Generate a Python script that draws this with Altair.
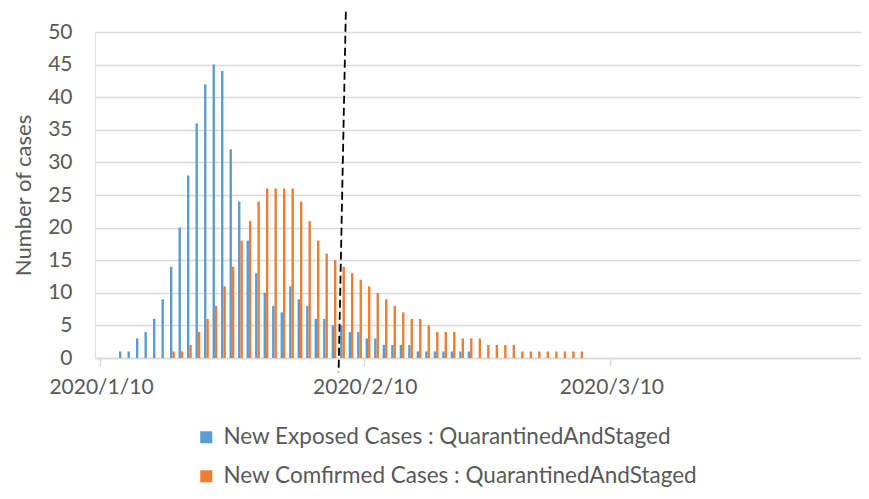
import altair as alt
import pandas as pd

start_date = "2020-01-10"
series_names = ["New Exposed Cases : QuarantinedAndStaged",
                "New Comfirmed Cases : QuarantinedAndStaged"]
series_colors = ["#5B9BD5", "#ED7D31"]

# daily values, index 0 = 2020-01-10
exposed = [0, 0, 1, 1, 3, 4, 6, 9, 14, 20, 28, 36, 42, 45, 44, 32, 24, 18, 13, 10,
           8, 7, 11, 9, 8, 6, 6, 5, 5, 4, 4, 3, 3, 2, 2, 2, 2, 1, 1, 1,
           1, 1, 1, 1]
confirmed = [0, 0, 0, 0, 0, 0, 0, 0, 1, 1, 2, 4, 6, 8, 11, 14, 18, 21, 24, 26,
             26, 26, 26, 24, 21, 18, 16, 15, 14, 13, 12, 11, 10, 9, 8, 7, 6, 6, 5, 4,
             4, 4, 3, 3, 3, 2, 2, 2, 2, 1, 1, 1, 1, 1, 1, 1, 1]

tick_dates = ["2020-01-10", "2020-02-10", "2020-03-10"]
tick_labels = ["2020/1/10", "2020/2/10", "2020/3/10"]
axis_end_date = "2020-04-07T21:00"
y_ticks = [0, 5, 10, 15, 20, 25, 30, 35, 40, 45, 50]

# dashed marker line (date-day position, value) at both ends
marker_days = [28.9, 28.05]
marker_values = [53.1, -2.2]

t0 = pd.Timestamp(start_date)
rows = []
for name, vals, lo, hi in [(series_names[0], exposed, 0.23, 0.51),
                           (series_names[1], confirmed, 0.51, 0.79)]:
    dates = pd.date_range(start_date, periods=len(vals), freq="D")
    for d, v in zip(dates, vals):
        if v > 0:
            day = (d - t0).days
            rows.append({"series": name, "x": day + lo, "x2": day + hi, "value": v})
df = pd.DataFrame(rows)

tick_vals = [(pd.Timestamp(t) - t0).days for t in tick_dates]
x_end = (pd.Timestamp(axis_end_date) - t0) / pd.Timedelta(days=1)

label_expr = "''"
for v, lab in reversed(list(zip(tick_vals, tick_labels))):
    label_expr = f"datum.value == {v} ? '{lab}' : ({label_expr})"

FONT = "Lato"
GREY = "#595959"

x_scale = alt.Scale(domain=[0, x_end], nice=False, zero=False)
y_scale = alt.Scale(domain=[0, 50], nice=False)

x_axis = alt.Axis(values=tick_vals, labelExpr=label_expr, title=None,
                  grid=False, domainColor="#D9D9D9", domainWidth=1.5,
                  tickColor="#D9D9D9", tickWidth=1.5, tickSize=8,
                  labelFont=FONT, labelFontSize=21, labelColor=GREY,
                  labelOffset=1, labelPadding=10, labelFlush=False,
                  labelOverlap=False)
y_axis = alt.Axis(values=y_ticks, title="Number of cases",
                  domain=False, ticks=False, gridColor="#D9D9D9",
                  gridWidth=1.5, labelFont=FONT, labelFontSize=21,
                  labelColor=GREY, labelPadding=23, labelOverlap=False,
                  titleFont=FONT, titleFontSize=22, titleColor=GREY,
                  titleFontWeight="normal", titlePadding=12)

bars = alt.Chart(df).mark_bar(orient="vertical").encode(
    x=alt.X("x:Q", scale=x_scale, axis=x_axis),
    x2="x2:Q",
    y=alt.Y("value:Q", scale=y_scale, axis=y_axis),
    y2=alt.datum(0),
    color=alt.Color("series:N",
                    scale=alt.Scale(domain=series_names, range=series_colors),
                    legend=alt.Legend(title=None, orient="none", legendX=100,
                                      legendY=394, direction="vertical",
                                      symbolType="square", symbolSize=144,
                                      symbolStrokeWidth=0, labelFont=FONT,
                                      labelFontSize=22.5, labelColor=GREY,
                                      labelOffset=6, rowPadding=16, padding=0,
                                      labelLimit=700)),
)

marker_df = pd.DataFrame({"x": [marker_days[0]], "x2": [marker_days[1]],
                          "y": [marker_values[0]], "y2": [marker_values[1]]})
marker = alt.Chart(marker_df).mark_rule(color="black", strokeWidth=1.8,
                                        strokeDash=[8, 4]).encode(
    x=alt.X("x:Q", scale=x_scale, axis=x_axis), x2="x2:Q",
    y=alt.Y("y:Q", scale=y_scale, axis=y_axis), y2="y2:Q")

chart = alt.layer(bars, marker).properties(
    width=766, height=326,
    padding={"left": 87, "top": 24, "right": 0, "bottom": 129},
    autosize=alt.AutoSizeParams(type="none"),
).configure_view(stroke=None).configure(background="white")

chart.save("out.html", embed_options={"renderer": "svg", "actions": False})
